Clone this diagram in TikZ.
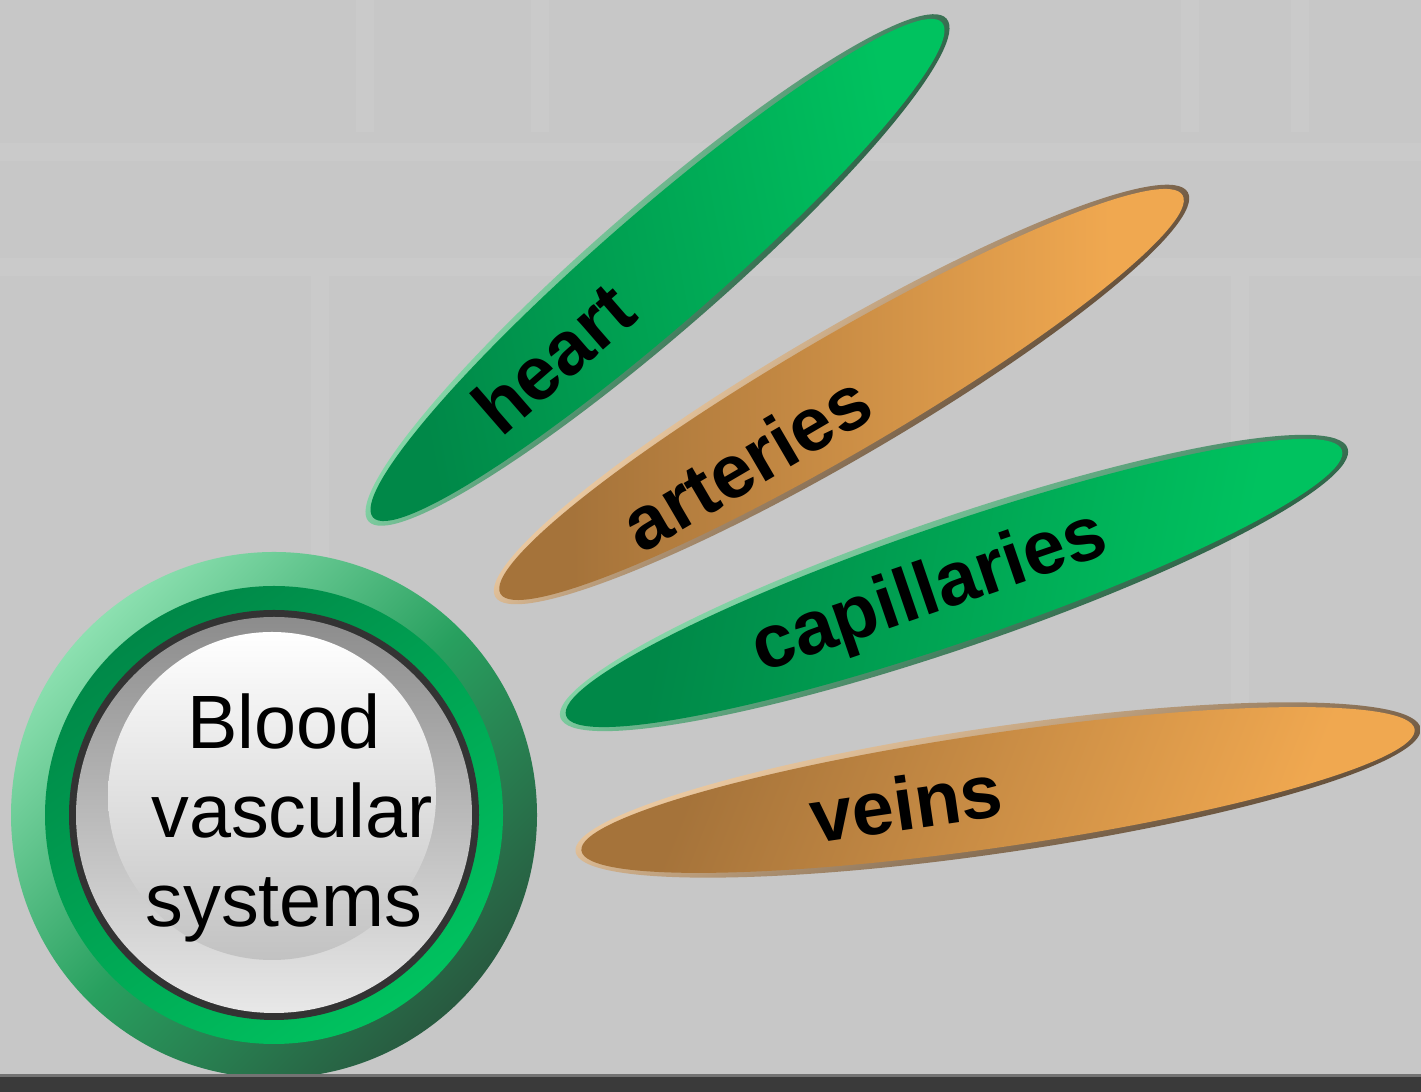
\documentclass[tikz,border=0pt]{standalone}
\usepackage{fontspec}
\setmainfont{Liberation Sans}
\usepackage{xcolor}
\definecolor{bggrey}{RGB}{199,199,199}
\definecolor{bgline}{RGB}{202,202,202}
\definecolor{floorgrey}{RGB}{58,58,58}
\definecolor{gDark}{RGB}{0,136,72}
\definecolor{gBright}{RGB}{0,194,95}
\definecolor{gRimL}{RGB}{140,224,176}
\definecolor{gRimM}{RGB}{40,160,95}
\definecolor{gRimD}{RGB}{40,90,64}
\definecolor{oDark}{RGB}{165,115,58}
\definecolor{oBright}{RGB}{240,168,80}
\definecolor{oRimL}{RGB}{245,210,168}
\definecolor{oRimD}{RGB}{92,72,52}
\definecolor{silverD}{RGB}{140,140,140}
\definecolor{silverL}{RGB}{232,232,232}
\definecolor{silverC}{RGB}{194,194,194}
\usetikzlibrary{positioning}

\tikzset{
  leaf/.style={font=\fontsize{21.5}{25}\selectfont\bfseries, text=black, inner sep=0pt},
  greenrim/.style={top color=gRimL, bottom color=gRimD, shading angle=12},
  greenbody/.style={top color=gDark, bottom color=gBright, shading angle=60},
  orangerim/.style={top color=oRimL, bottom color=oRimD, shading angle=12},
  orangebody/.style={top color=oDark, bottom color=oBright, shading angle=60}
}

\begin{document}
\begin{tikzpicture}
  \useasboundingbox (0,0) rectangle (14.21,10.92);
  \fill[bggrey] (0,0) rectangle (14.21,10.92);
  % faint background
  \foreach \x in {3.65,5.40,11.90,13.00}
    \draw[bgline, line width=5pt] (\x,10.92) -- (\x,9.60);
  \foreach \x in {3.20,12.40}
    \draw[bgline, line width=5pt] (\x,8.20) -- (\x,3.00);
  \draw[bgline, line width=5pt] (0,9.40) -- (14.21,9.40);
  \draw[bgline, line width=5pt] (0,8.25) -- (14.21,8.25);

  % centre button
  \shade[top color=gRimL, bottom color=gRimD, middle color=gRimM, shading angle=45] (2.74,2.77) circle (2.63);
  \shade[top color=gDark, bottom color=gBright, shading angle=35] (2.74,2.77) circle (2.29);
  \fill[black!80] (2.74,2.77) circle (2.05);
  \shade[top color=silverD, bottom color=silverL] (2.74,2.77) circle (1.98);
  \shade[top color=white, bottom color=silverC] (2.72,2.96) circle (1.64);
  \node[font=\fontsize{21.5}{25.3}\selectfont, align=center, inner sep=0pt] (blood) at (2.84,2.74) {Blood\\\hspace*{0.16cm}vascular\\systems};

  % leaves
  \begin{scope}[transform canvas={shift={(6.575,8.22)}, rotate=41}]
    \shade[greenrim] (0,0) ellipse [x radius=3.83, y radius=0.63];
    \shade[greenbody] (0,0) ellipse [x radius=3.77, y radius=0.57];
  \end{scope}
  \begin{scope}[transform canvas={shift={(8.415,6.975)}, rotate=30.3}]
    \shade[orangerim] (0,0) ellipse [x radius=4.01, y radius=0.64];
    \shade[orangebody] (0,0) ellipse [x radius=3.95, y radius=0.58];
  \end{scope}
  \begin{scope}[transform canvas={shift={(9.54,5.09)}, rotate=18.9}]
    \shade[greenrim] (0,0) ellipse [x radius=4.16, y radius=0.65];
    \shade[greenbody] (0,0) ellipse [x radius=4.10, y radius=0.59];
  \end{scope}
  \begin{scope}[transform canvas={shift={(9.98,3.02)}, rotate=8.3}]
    \shade[orangerim] (0,0) ellipse [x radius=4.27, y radius=0.63];
    \shade[orangebody] (0,0) ellipse [x radius=4.21, y radius=0.57];
  \end{scope}

  \node[leaf, rotate=41] (heart) at (5.53,7.34) {heart};
  \node[leaf, rotate=30.3] (arteries) at (7.46,6.30) {arteries};
  \node[leaf, rotate=18.9] (capillaries) at (9.30,4.98) {capillaries};
  \node[leaf, rotate=8.3] (veins) at (9.06,2.89) {veins};

  % floor
  \fill[floorgrey] (0,0) rectangle (14.21,0.17);
  \fill[black!55] (0,0.15) rectangle (14.21,0.18);
\end{tikzpicture}
\end{document}
